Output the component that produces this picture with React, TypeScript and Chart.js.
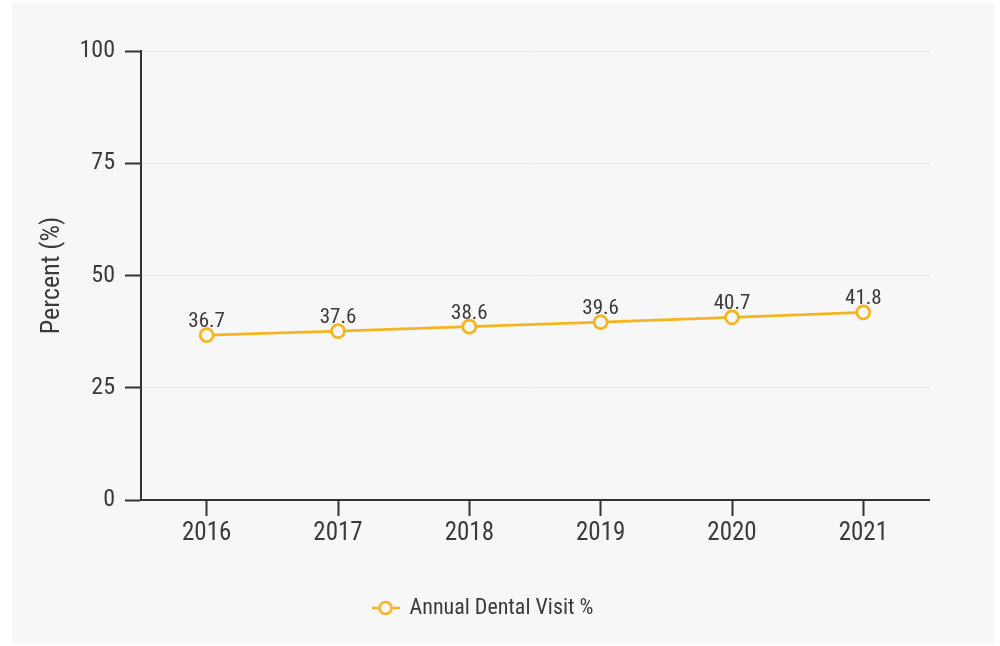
import React, { useEffect, useRef } from "react";
import { Chart, registerables } from "chart.js";

Chart.register(...registerables);

const years = ["2016", "2017", "2018", "2019", "2020", "2021"];
const visitPct = [36.7, 37.6, 38.6, 39.6, 40.7, 41.8];
const seriesLabel = "Annual Dental Visit %";
const yTitle = "Percent (%)";
const yTicks = [0, 25, 50, 75, 100];

const FONT = '"Roboto Condensed", "Liberation Sans Narrow", "DejaVu Sans Condensed", Roboto, sans-serif';
const LINE = "#f5b51f";
const TEXT = "#3a3a3a";

const dataLabels = {
  id: "dataLabels",
  afterDatasetsDraw(chart: any) {
    const ctx = chart.ctx;
    const meta = chart.getDatasetMeta(0);
    ctx.save();
    ctx.font = `21px ${FONT}`;
    ctx.fillStyle = TEXT;
    ctx.textAlign = "center";
    ctx.textBaseline = "alphabetic";
    meta.data.forEach((pt: any, i: number) => {
      const v = chart.data.datasets[0].data[i];
      ctx.fillText(String(v), pt.x, pt.y - 8);
    });
    ctx.restore();
  },
};

function legendIcon() {
  const c = document.createElement("canvas");
  c.width = 28;
  c.height = 18;
  const g = c.getContext("2d")!;
  g.strokeStyle = LINE;
  g.lineWidth = 2.5;
  g.beginPath();
  g.moveTo(0, 9);
  g.lineTo(28, 9);
  g.stroke();
  g.beginPath();
  g.arc(14, 9, 6, 0, Math.PI * 2);
  g.fillStyle = "#f7f7f7";
  g.fill();
  g.stroke();
  return c;
}

export default function App() {
  const ref = useRef<HTMLCanvasElement>(null);
  useEffect(() => {
    const icon = legendIcon();
    const chart = new Chart(ref.current!, {
      type: "line",
      data: {
        labels: years,
        datasets: [
          {
            label: seriesLabel,
            data: visitPct,
            borderColor: LINE,
            backgroundColor: "#ffffff",
            borderWidth: 2.75,
            pointRadius: 6.5,
            pointBorderWidth: 2.75,
            pointBackgroundColor: "#f7f7f7",
            pointBorderColor: LINE,
            tension: 0,
          },
        ],
      },
      options: {
        animation: false,
        responsive: false,
        layout: { padding: { left: 25, top: 48, right: 65, bottom: 14 } },
        plugins: {
          legend: {
            position: "bottom",
            labels: {
              font: { family: FONT, size: 22 },
              color: TEXT,
              usePointStyle: true,
              pointStyle: icon as any,
              pointStyleWidth: 26,
              padding: 10,
              generateLabels: () => [
                {
                  text: seriesLabel,
                  pointStyle: icon as any,
                  fillStyle: LINE,
                  strokeStyle: LINE,
                  lineWidth: 0,
                  hidden: false,
                  datasetIndex: 0,
                  fontColor: TEXT,
                } as any,
              ],
            },
          },
          tooltip: { enabled: false },
        },
        scales: {
          x: {
            offset: true,
            grid: {
              display: true,
              drawOnChartArea: false,
              tickLength: 16,
              tickColor: "#333333",
              tickWidth: 2,
              offset: false,
            },
            border: { color: "#333333", width: 2 },
            ticks: { font: { family: FONT, size: 25 }, color: TEXT, padding: 3 },
            afterFit: (s: any) => {
              s.height = 87;
            },
          },
          y: {
            min: 0,
            max: 100,
            afterBuildTicks: (s: any) => {
              s.ticks = yTicks.map((v) => ({ value: v }));
            },
            grid: {
              color: "#e6e6e6",
              lineWidth: 1,
              tickLength: 16,
              tickColor: "#333333",
              tickWidth: 2,
            },
            border: { color: "#333333", width: 2 },
            ticks: { font: { family: FONT, size: 24 }, color: TEXT, padding: 10 },
            title: {
              display: true,
              text: yTitle,
              font: { family: FONT, size: 26 },
              color: TEXT,
              padding: 0,
            },
            afterFit: (s: any) => {
              s.width = 104;
            },
          },
        },
      },
      plugins: [dataLabels],
    });
    return () => chart.destroy();
  }, []);
  return (
    <div style={{ position: "absolute", left: 0, top: 0, width: 1000, height: 646, background: "#ffffff" }}>
      <div style={{ position: "absolute", left: 12, top: 3, width: 982, height: 640, background: "#f7f7f7" }}>
        <canvas ref={ref} width={982} height={640} style={{ display: "block" }} />
      </div>
    </div>
  );
}
